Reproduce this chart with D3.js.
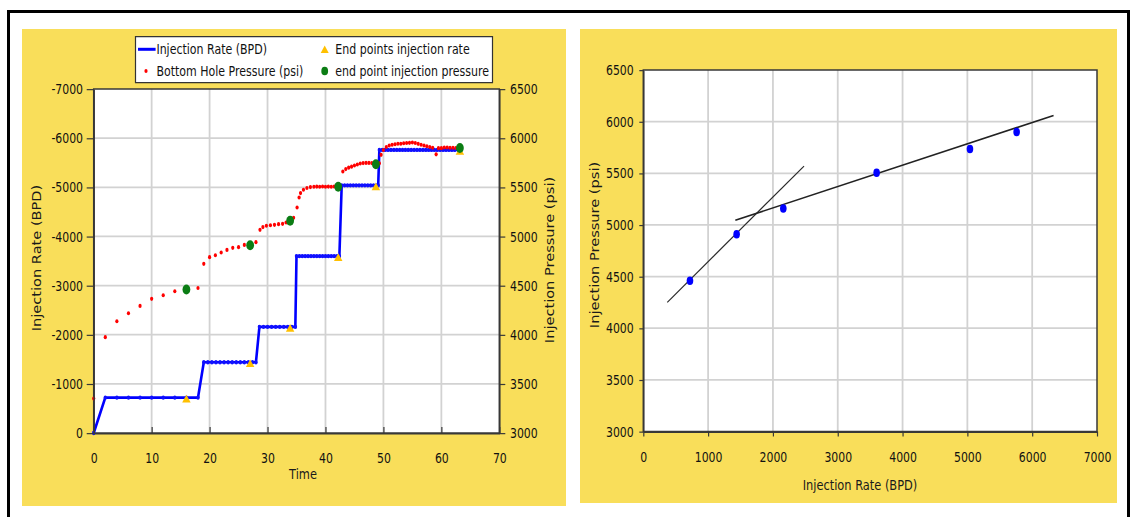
<!DOCTYPE html>
<html>
<head>
<meta charset="utf-8">
<script src="https://cdn.jsdelivr.net/npm/d3@7"></script>
<style>
  body { margin: 0; background: #fff; }
  svg line, svg path, svg rect { vector-effect: non-scaling-stroke; }
</style>
</head>
<body>
<div id="chart"></div>
<script>
/* ---- data ---- */

// injection rate (BPD), plotted negative on the left axis
var rateStart = [0, 0];
var rateLevels = [-720, -1440, -2160, -3600, -5040, -5760];
var rateSampleTimes = [
    [2, 4, 6, 8, 10, 12, 14, 16, 18],
    [19, 19.7, 20.4, 21.1, 21.8, 22.5, 23.2, 23.9, 24.6, 25.3, 26, 26.7, 27.4, 28],
    [28.6, 29.3, 30, 30.7, 31.4, 32.1, 32.8, 33.5, 34.2, 34.8],
    [35, 35.5, 36, 36.5, 37, 37.5, 38, 38.5, 39, 39.5, 40, 40.5, 41, 41.5, 42, 42.4],
    [42.8, 43.3, 43.8, 44.3, 44.8, 45.3, 45.8, 46.3, 46.8, 47.3, 47.8, 48.3, 48.8, 49.1],
    [49.3, 49.8, 50.3, 50.8, 51.3, 51.8, 52.3, 52.8, 53.3, 53.8, 54.3, 54.8, 55.3, 55.8,
     56.3, 56.8, 57.3, 57.8, 58.3, 58.8, 59.3, 59.8, 60.3, 60.8, 61.3, 61.8, 62.3, 63]
];

// bottom hole pressure (psi)
var bhpTime = [0, 2, 4, 6, 8, 10, 12, 14, 16, 18,
    19, 20, 21, 22, 23, 24, 25, 26, 27, 28,
    28.7, 29.2, 29.8, 30.5, 31.2, 31.9, 32.6, 33.2, 33.8, 34.5,
    35.1, 35.45, 35.7, 36.2, 36.8, 37.4, 38, 38.5, 39, 39.5, 40, 40.5, 41, 41.5, 42.3,
    43, 43.5, 44, 44.5, 45, 45.5, 46, 46.5, 47, 47.5, 48, 48.6,
    49.3, 49.6, 50, 50.5, 51, 51.5, 52, 52.5, 53, 53.5, 54, 54.5, 55, 55.5, 56, 56.5,
    57, 57.5, 58, 58.5, 59.1, 59.5, 60, 60.5, 61, 61.5, 62, 62.5, 63.2];
var bhpValue = [3350, 3975, 4137, 4219, 4293, 4365, 4402, 4443, 4456, 4476,
    4721, 4789, 4809, 4836, 4863, 4884, 4891, 4914, 4907, 4942,
    5067, 5095, 5108, 5113, 5118, 5125, 5128, 5141, 5160, 5190,
    5294, 5396, 5441, 5475, 5492, 5502, 5505, 5507, 5505, 5508, 5505, 5507, 5505, 5508, 5505,
    5660, 5685, 5700, 5710, 5722, 5732, 5742, 5746, 5748, 5748, 5746, 5735,
    5745, 5830, 5880, 5910, 5925, 5933, 5938, 5943, 5943, 5948, 5950, 5952, 5955, 5950, 5942, 5933,
    5925, 5918, 5910, 5902, 5835, 5898, 5898, 5905, 5905, 5903, 5902, 5900, 5900];

// end points of each rate step
var endTime = [16, 27, 33.9, 42.2, 48.7, 63.2];
var endRate = [720, 1440, 2160, 3600, 5040, 5760];
var endPressure = [4460, 4910, 5160, 5505, 5735, 5900];

// straight lines through the end points (rate, pressure)
var trendLowRate = [370, 2480];
var trendLowPressure = [4250, 5570];
var trendHighRate = [1420, 6330];
var trendHighPressure = [5045, 6060];

var timeTicks = [0, 10, 20, 30, 40, 50, 60, 70];
var rateTicks = [0, -1000, -2000, -3000, -4000, -5000, -6000, -7000];
var pressureTicks = [3000, 3500, 4000, 4500, 5000, 5500, 6000, 6500];
var rateTicksRight = [0, 1000, 2000, 3000, 4000, 5000, 6000, 7000];

/* ---- drawing ---- */

var width = 1131, height = 517;
var K = 1.28;               // the picture is stretched vertically
function vy(py) { return py / K; }

var font = "'DejaVu Sans', Verdana, sans-serif";
var yellow = "#F9DE5A";
var gridColor = "#d2d2d2";
var axisColor = "#383838";

var svg = d3.select("#chart").append("svg")
    .attr("width", width)
    .attr("height", height);

svg.append("rect").attr("width", width).attr("height", height).attr("fill", "#fff");

var root = svg.append("g").attr("transform", "scale(1," + K + ")");

root.append("rect")
    .attr("x", 8.5).attr("y", vy(11.5))
    .attr("width", 1120).attr("height", vy(600))
    .attr("fill", "none").attr("stroke", "#000").attr("stroke-width", 3);

root.append("rect").attr("x", 22).attr("y", vy(29))
    .attr("width", 544).attr("height", vy(506) - vy(29)).attr("fill", yellow);
root.append("rect").attr("x", 580).attr("y", vy(29))
    .attr("width", 537).attr("height", vy(503) - vy(29)).attr("fill", yellow);

function styleAxis(sel, size) {
    sel.attr("font-family", font).attr("font-size", size);
    sel.selectAll("text").attr("fill", "#111");
    sel.selectAll("line").attr("stroke", axisColor).attr("stroke-width", 1.2);
    sel.select(".domain").attr("stroke", axisColor).attr("stroke-width", 1.5);
}

function title(x, y, text, rotate) {
    var t = root.append("text")
        .attr("x", x).attr("y", vy(y))
        .attr("dy", "0.35em")
        .attr("text-anchor", "middle")
        .attr("font-family", font)
        .attr("font-size", 11.4)
        .attr("fill", "#1a1a1a")
        .text(text);
    if (rotate) t.attr("transform", "rotate(-90," + x + "," + vy(y) + ")");
}

/* left chart: rate and pressure against time */
var L = { left: 93.7, right: 499.3, top: vy(89), bottom: vy(433) };

var x = d3.scaleLinear().domain([0, 70]).range([L.left, L.right]);
var yRate = d3.scaleLinear().domain([0, -7000]).range([L.bottom, L.top]);
var yP = d3.scaleLinear().domain([3000, 6500]).range([L.bottom, L.top]);

var left = root.append("g");

left.append("rect")
    .attr("x", L.left).attr("y", L.top)
    .attr("width", L.right - L.left).attr("height", L.bottom - L.top)
    .attr("fill", "#fff");

left.append("g").selectAll("line")
    .data(timeTicks.slice(1, -1))
    .enter().append("line")
    .attr("x1", function(d) { return x(d); }).attr("x2", function(d) { return x(d); })
    .attr("y1", L.top).attr("y2", L.bottom)
    .attr("stroke", gridColor).attr("stroke-width", 1.8);

left.append("g").selectAll("line")
    .data(rateTicks.slice(1, -1))
    .enter().append("line")
    .attr("x1", L.left).attr("x2", L.right)
    .attr("y1", function(d) { return yRate(d); }).attr("y2", function(d) { return yRate(d); })
    .attr("stroke", gridColor).attr("stroke-width", 1.8);

left.append("rect")
    .attr("x", L.left).attr("y", L.top)
    .attr("width", L.right - L.left).attr("height", L.bottom - L.top)
    .attr("fill", "none").attr("stroke", axisColor).attr("stroke-width", 1.5);

// rate series
var rateSeries = [rateStart];
rateSampleTimes.forEach(function(times, i) {
    times.forEach(function(t) { rateSeries.push([t, rateLevels[i]]); });
});

var rateLine = d3.line()
    .x(function(d) { return x(d[0]); })
    .y(function(d) { return yRate(d[1]); });

left.append("path")
    .datum(rateSeries)
    .attr("d", rateLine)
    .attr("fill", "none")
    .attr("stroke", "#0000ff")
    .attr("stroke-width", 2.6);

left.append("g").selectAll("circle")
    .data(rateSeries)
    .enter().append("circle")
    .attr("cx", function(d) { return x(d[0]); })
    .attr("cy", function(d) { return yRate(d[1]); })
    .attr("r", 1.7)
    .attr("fill", "#1010ff");

// pressure dots
left.append("g").selectAll("circle")
    .data(bhpTime)
    .enter().append("circle")
    .attr("cx", function(d) { return x(d); })
    .attr("cy", function(d, i) { return yP(bhpValue[i]); })
    .attr("r", 1.6)
    .attr("fill", "#ff0000");

function trianglePath(cx, cy, w, h) {
    return "M" + (cx - w / 2) + "," + (cy + h / 2) +
           "L" + cx + "," + (cy - h / 2) +
           "L" + (cx + w / 2) + "," + (cy + h / 2) + "Z";
}

left.append("g").selectAll("path")
    .data(endTime)
    .enter().append("path")
    .attr("d", function(d, i) { return trianglePath(x(d), yRate(-endRate[i]) + 0.8, 8.5, 6); })
    .attr("fill", "#FFC000");

left.append("g").selectAll("circle")
    .data(endTime)
    .enter().append("circle")
    .attr("cx", function(d) { return x(d); })
    .attr("cy", function(d, i) { return yP(endPressure[i]); })
    .attr("r", 3.9)
    .attr("fill", "#0b7d14");

var axL = left.append("g").attr("transform", "translate(" + L.left + ",0)")
    .call(d3.axisLeft(yRate).tickValues(rateTicks).tickSizeInner(7).tickSizeOuter(0)
        .tickPadding(3.7).tickFormat(function(d) { return String(d); }));
styleAxis(axL, 10.9);

var axR = left.append("g").attr("transform", "translate(" + L.right + ",0)")
    .call(d3.axisRight(yP).tickValues(pressureTicks).tickSizeInner(6).tickSizeOuter(0)
        .tickPadding(4.7).tickFormat(function(d) { return String(d); }));
styleAxis(axR, 10.9);

var axB = left.append("g").attr("transform", "translate(0," + L.bottom + ")")
    .call(d3.axisBottom(x).tickValues(timeTicks).tickSizeInner(-4.7).tickSizeOuter(0)
        .tickPadding(15.8).tickFormat(function(d) { return String(d); }));
styleAxis(axB, 10.9);

title(303, 474, "Time", false);
title(37, 258, "Injection Rate (BPD)", true);
title(550, 260, "Injection Pressure (psi)", true);

// legend
var legend = left.append("g").attr("font-family", font).attr("font-size", 11).attr("fill", "#111");
legend.append("rect")
    .attr("x", 135.5).attr("y", vy(36.7))
    .attr("width", 357).attr("height", vy(82.7) - vy(36.7))
    .attr("fill", "#fff").attr("stroke", "#333").attr("stroke-width", 1.2);

legend.append("line")
    .attr("x1", 138).attr("x2", 155.6).attr("y1", vy(49.3)).attr("y2", vy(49.3))
    .attr("stroke", "#0000ff").attr("stroke-width", 3);
legend.append("circle").attr("cx", 146).attr("cy", vy(71)).attr("r", 1.6).attr("fill", "#ff0000");
legend.append("path").attr("d", trianglePath(324.7, vy(49.3), 8, 5.8)).attr("fill", "#FFC000");
legend.append("circle").attr("cx", 324.7).attr("cy", vy(71)).attr("r", 3.4).attr("fill", "#0b7d14");

[["Injection Rate (BPD)", 156.4, 49.3],
 ["Bottom Hole Pressure (psi)", 156.4, 71],
 ["End points injection rate", 335.3, 49.3],
 ["end point injection pressure", 335.3, 71]].forEach(function(e) {
    legend.append("text").attr("x", e[1]).attr("y", vy(e[2])).attr("dy", "0.35em").text(e[0]);
});

/* right chart: pressure against rate */
var R = { left: 643.3, right: 1097, top: vy(70), bottom: vy(431.5) };

var xr = d3.scaleLinear().domain([0, 7000]).range([R.left, R.right]);
var yr = d3.scaleLinear().domain([3000, 6500]).range([R.bottom, R.top]);

var right = root.append("g");

right.append("rect")
    .attr("x", R.left).attr("y", R.top)
    .attr("width", R.right - R.left).attr("height", R.bottom - R.top)
    .attr("fill", "#fff");

right.append("g").selectAll("line")
    .data(rateTicksRight.slice(1, -1))
    .enter().append("line")
    .attr("x1", function(d) { return xr(d); }).attr("x2", function(d) { return xr(d); })
    .attr("y1", R.top).attr("y2", R.bottom)
    .attr("stroke", gridColor).attr("stroke-width", 1.8);

right.append("g").selectAll("line")
    .data(pressureTicks.slice(1, -1))
    .enter().append("line")
    .attr("x1", R.left).attr("x2", R.right)
    .attr("y1", function(d) { return yr(d); }).attr("y2", function(d) { return yr(d); })
    .attr("stroke", gridColor).attr("stroke-width", 1.8);

right.append("rect")
    .attr("x", R.left).attr("y", R.top)
    .attr("width", R.right - R.left).attr("height", R.bottom - R.top)
    .attr("fill", "none").attr("stroke", axisColor).attr("stroke-width", 1.5);

var trend = d3.line()
    .x(function(d) { return xr(d[0]); })
    .y(function(d) { return yr(d[1]); });

right.append("path")
    .datum(d3.zip(trendLowRate, trendLowPressure))
    .attr("d", trend)
    .attr("stroke", "#2a2a2a").attr("stroke-width", 1.2).attr("fill", "none");

right.append("path")
    .datum(d3.zip(trendHighRate, trendHighPressure))
    .attr("d", trend)
    .attr("stroke", "#222").attr("stroke-width", 1.6).attr("fill", "none");

right.append("g").selectAll("circle")
    .data(endRate)
    .enter().append("circle")
    .attr("cx", function(d) { return xr(d); })
    .attr("cy", function(d, i) { return yr(endPressure[i]); })
    .attr("r", 3.3)
    .attr("fill", "#0000ff");

var axRL = right.append("g").attr("transform", "translate(" + R.left + ",0)")
    .call(d3.axisLeft(yr).tickValues(pressureTicks).tickSizeInner(4).tickSizeOuter(0)
        .tickPadding(5.6).tickFormat(function(d) { return String(d); }));
styleAxis(axRL, 10.9);

var axRB = right.append("g").attr("transform", "translate(0," + R.bottom + ")")
    .call(d3.axisBottom(xr).tickValues(rateTicksRight).tickSizeInner(3.9).tickSizeOuter(0)
        .tickPadding(12.3).tickFormat(function(d) { return String(d); }));
styleAxis(axRB, 10.9);

title(860, 485, "Injection Rate (BPD)", false);
title(595, 245, "Injection Pressure (psi)", true);
</script>
</body>
</html>
